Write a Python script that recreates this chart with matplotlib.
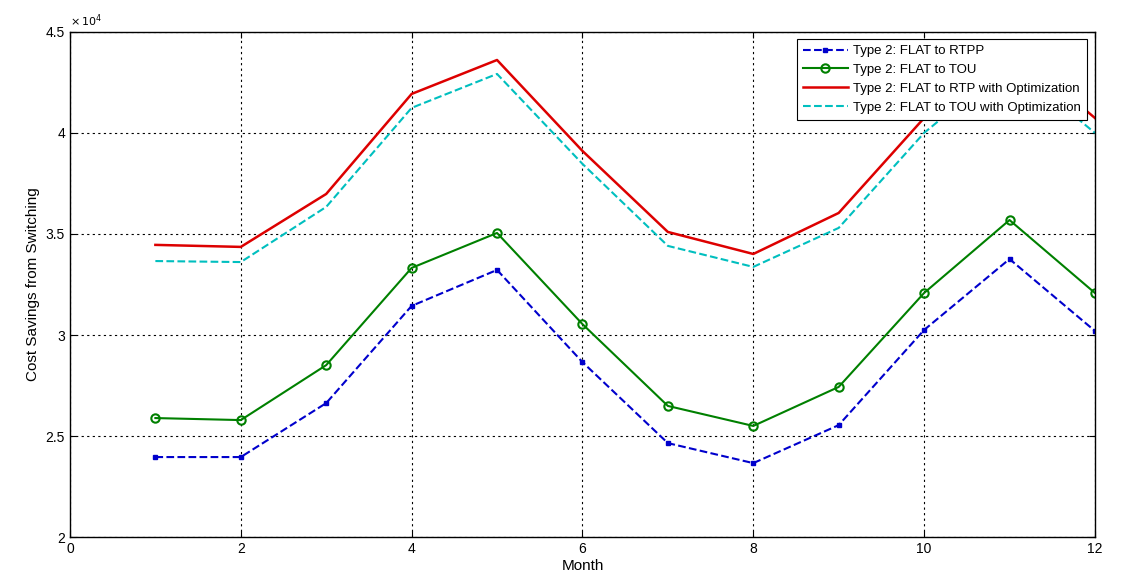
import matplotlib
matplotlib.use('Agg')
import matplotlib.pyplot as plt

plt.rcParams['font.family'] = ['Liberation Sans', 'DejaVu Sans']

# Monthly cost savings (x 10^4)
months = [1, 2, 3, 4, 5, 6, 7, 8, 9, 10, 11, 12]
flat_to_rtpp = [2.396, 2.396, 2.663, 3.144, 3.322, 2.866, 2.465, 2.366, 2.554, 3.025, 3.376, 3.020]
flat_to_tou = [2.589, 2.579, 2.851, 3.332, 3.505, 3.054, 2.649, 2.550, 2.743, 3.208, 3.569, 3.208]
flat_to_rtp_opt = [3.446, 3.436, 3.698, 4.193, 4.361, 3.911, 3.510, 3.401, 3.604, 4.074, 4.430, 4.074]
flat_to_tou_opt = [3.366, 3.361, 3.634, 4.124, 4.292, 3.847, 3.441, 3.337, 3.530, 4.000, 4.350, 4.000]

fig = plt.figure(figsize=(11.23, 5.8), dpi=100)
ax = fig.add_axes([0.0623, 0.074, 0.9127, 0.871])

ax.plot(months, flat_to_rtpp, '--', color='#0000cc', marker='s', markersize=3, lw=1.5,
        label='Type 2: FLAT to RTPP')
ax.plot(months, flat_to_tou, '-', color='#008000', marker='o', markersize=6, mfc='none',
        mew=1.5, lw=1.5, label='Type 2: FLAT to TOU')
ax.plot(months, flat_to_rtp_opt, '-', color='#dd0000', lw=1.8, label='Type 2: FLAT to RTP with Optimization')
ax.plot(months, flat_to_tou_opt, '--', color='#00bfbf', lw=1.5, label='Type 2: FLAT to TOU with Optimization')

ax.set_xlim(0, 12)
ax.set_ylim(2, 4.5)
ax.set_xticks(range(0, 13, 2))
ax.set_yticks([2, 2.5, 3, 3.5, 4, 4.5])
ax.set_yticklabels(['2', '2.5', '3', '3.5', '4', '4.5'])
ax.tick_params(direction='in', top=True, right=True, labelsize=10, length=4)
ax.grid(True, color='black', linestyle=(0, (2, 3)), lw=0.8)
for s in ax.spines.values():
    s.set_linewidth(1.0)

ax.set_xlabel('Month', fontsize=11, labelpad=2)
ax.set_ylabel('Cost Savings from Switching', fontsize=11)
ax.text(0.0, 1.005, r'$\times\,10^4$', transform=ax.transAxes, fontsize=8, ha='left', va='bottom')

leg = ax.legend(loc='upper right', bbox_to_anchor=(0.992, 0.986), fontsize=9.5, frameon=True,
                fancybox=False, edgecolor='black', framealpha=1, borderpad=0.45,
                labelspacing=0.5, handlelength=3.4, handletextpad=0.4, borderaxespad=0.0,
                numpoints=1)
leg.get_frame().set_linewidth(0.8)

fig.savefig('out.png', dpi=100)
